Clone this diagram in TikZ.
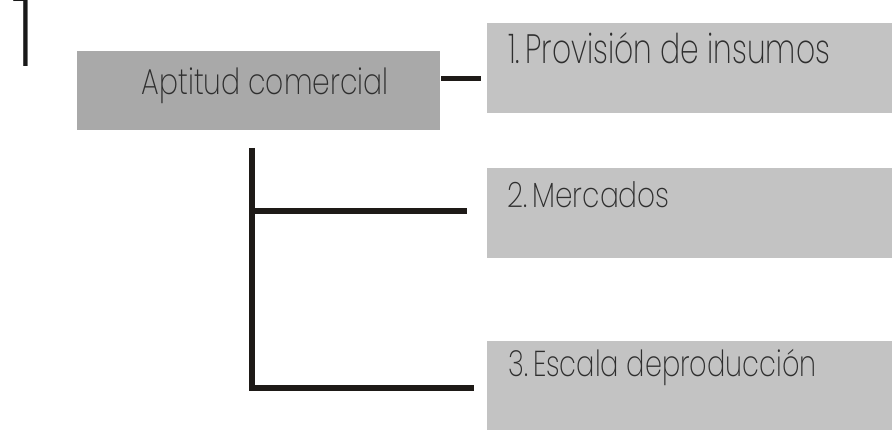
\documentclass[tikz,border=0pt]{standalone}
\usepackage{fontspec}
\usepackage{graphicx}
\newfontfamily\lightfont{Poppins ExtraLight}
\definecolor{boxdark}{HTML}{A9A9A9}
\definecolor{boxlight}{HTML}{C3C3C3}
\definecolor{linecol}{HTML}{1E1A17}
\definecolor{txtcol}{HTML}{2E2E2E}
\newcommand\fittext[3]{\resizebox{#1}{\height}{\fontsize{#2}{#2}\selectfont\lightfont #3}}
\tikzset{
  boxA/.style={fill=boxdark, draw=none},
  boxB/.style={fill=boxlight, draw=none},
  lbl/.style={inner sep=0pt, anchor=base west, text=txtcol},
  conn/.style={draw=linecol, line width=5.5pt},
}
\begin{document}
\begin{tikzpicture}[x=1pt,y=-1pt]
\useasboundingbox (0,0) rectangle (892,430);
% boxes
\path[boxA] (77,51) rectangle (440,130);
\node[inner sep=0pt] (A) at (258.5,90.5) [minimum width=363pt, minimum height=79pt] {};
\path[boxB] (487,23) rectangle (892,113);
\node[inner sep=0pt] (B1) at (689.5,68) [minimum width=405pt, minimum height=90pt] {};
\path[boxB] (487,168) rectangle (892,258);
\node[inner sep=0pt] (B2) at (689.5,213) [minimum width=405pt, minimum height=90pt] {};
\path[boxB] (487,341) rectangle (892,430);
\node[inner sep=0pt] (B3) at (689.5,385.5) [minimum width=405pt, minimum height=89pt] {};
% labels
\node[lbl, text=black!90] (numone) at (11,67) {\fontsize{97}{97}\selectfont\lightfont 1};
\node[lbl] (tA) at (141.5,95) {\fittext{247pt}{36}{Aptitud comercial}};
\node[lbl] (t1) at (508,64) {\fittext{322pt}{41}{1.\,Provisión de insumos}};
\node[lbl] (t2) at (507.5,208) {\fittext{162pt}{35}{2.\,Mercados}};
\node[lbl] (t3) at (508.5,377) {\fittext{308pt}{36}{3.\,Escala deproducción}};
% connectors
\coordinate (c1s) at (441,78.5);
\coordinate (c1e) at (481,78.5);
\draw[conn] (c1s) -- (c1e);
\coordinate (vtop) at (252,148);
\coordinate (v2) at (252,211);
\coordinate (v3) at (252,388);
\coordinate (e2) at (467,211);
\coordinate (e3) at (474,388);
\draw[conn] (vtop) -- (v3);
\draw[conn] (v2) -- (e2);
\draw[conn] (v3 -| 249.25,0) -- (e3);
\end{tikzpicture}
\end{document}
